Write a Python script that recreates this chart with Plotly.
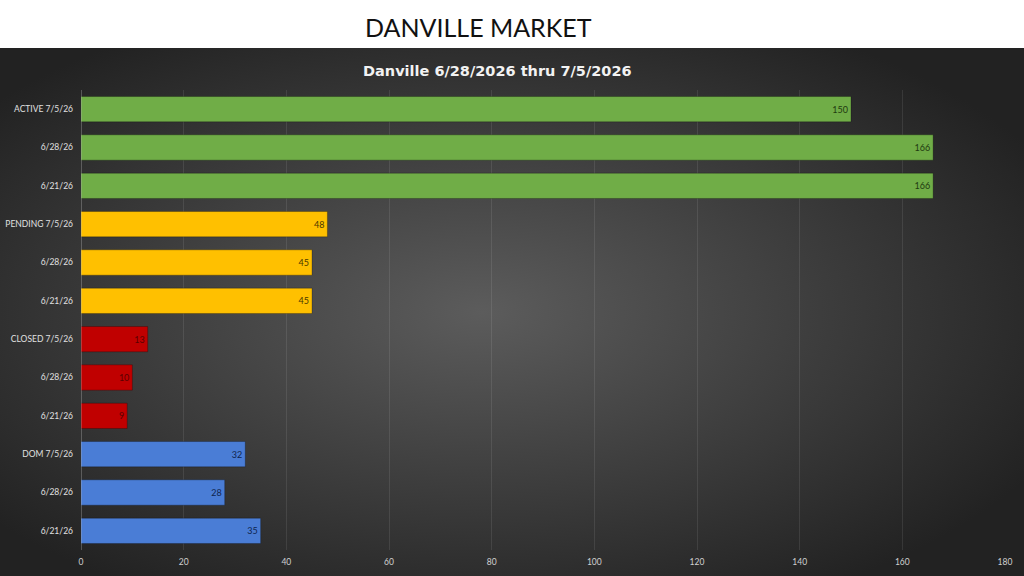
import urllib.parse
import plotly.graph_objects as go

# bar labels, top to bottom
labels = ["ACTIVE 7/5/26", "6/28/26", "6/21/26",
          "PENDING 7/5/26", "6/28/26", "6/21/26",
          "CLOSED 7/5/26", "6/28/26", "6/21/26",
          "DOM 7/5/26", "6/28/26", "6/21/26"]
values = [150, 166, 166, 48, 45, 45, 13, 10, 9, 32, 28, 35]
groups = ["active"] * 3 + ["pending"] * 3 + ["closed"] * 3 + ["dom"] * 3
x_ticks = [0, 20, 40, 60, 80, 100, 120, 140, 160, 180]

bar_colors = {"active": "#70AD47", "pending": "#FFC000",
              "closed": "#C00000", "dom": "#4A7DD6"}
text_colors = {"active": "#1F3A10", "pending": "#4A3800",
               "closed": "#5A0000", "dom": "#0F2550"}

positions = list(range(len(labels)))

# plot area in pixels
W, H = 1024, 576
L, R, T, B = 81, 19, 90, 26
PW, PH = W - L - R, H - T - B
BAND = 48  # white title band at the top


def px_x(col):
    return (col - L) / PW


def px_y(row):
    return (H - B - row) / PH


# dark radial backdrop, drawn as an inline svg
svg = ('<svg xmlns="http://www.w3.org/2000/svg" width="1024" height="528">'
       '<defs><radialGradient id="g" cx="47%" cy="50%" r="62%">'
       '<stop offset="0%" stop-color="#5c5c5c"/>'
       '<stop offset="100%" stop-color="#222222"/>'
       '</radialGradient></defs>'
       '<rect width="1024" height="528" fill="url(#g)"/></svg>')
bg_src = "data:image/svg+xml;utf8," + urllib.parse.quote(svg)

fig = go.Figure()
fig.add_trace(go.Bar(
    x=values,
    y=positions,
    orientation="h",
    marker=dict(color=[bar_colors[g] for g in groups],
                line=dict(color="rgba(0,0,0,0.25)", width=1)),
    text=values,
    textposition="inside",
    insidetextanchor="end",
    constraintext="none",
    textfont=dict(family="Lato", size=9,
                  color=[text_colors[g] for g in groups]),
    hoverinfo="x+y",
))

fig.update_layout(
    width=W, height=H,
    margin=dict(l=L, r=R, t=T, b=B),
    paper_bgcolor="#2a2a2a",
    plot_bgcolor="rgba(0,0,0,0)",
    bargap=0.34,
    showlegend=False,
    font=dict(family="Lato", color="#d9d9d9", size=9),
    images=[dict(source=bg_src, xref="paper", yref="paper",
                 x=px_x(0), y=px_y(BAND), sizex=W / PW, sizey=(H - BAND) / PH,
                 xanchor="left", yanchor="top",
                 sizing="stretch", layer="below")],
    shapes=[dict(type="rect", xref="paper", yref="paper",
                 x0=px_x(0), x1=px_x(W), y0=px_y(BAND), y1=px_y(0),
                 fillcolor="white", line=dict(width=0), layer="below")],
    annotations=[
        dict(text="DANVILLE MARKET", xref="paper", yref="paper",
             x=px_x(478), y=px_y(27),
             xanchor="center", yanchor="middle", showarrow=False,
             font=dict(family="Lato", size=25, color="#111111")),
        dict(text="<b>Danville 6/28/2026 thru 7/5/2026</b>", xref="paper", yref="paper",
             x=px_x(497), y=px_y(71),
             xanchor="center", yanchor="middle", showarrow=False,
             font=dict(family="DejaVu Sans", size=14.5, color="#f2f2f2")),
    ],
)

fig.update_xaxes(range=[0, 180], tickvals=x_ticks, showgrid=True,
                 gridcolor="rgba(255,255,255,0.09)", gridwidth=1,
                 zeroline=False, showline=False, ticks="", automargin=False,
                 ticklabelstandoff=5,
                 tickfont=dict(size=8.5, color="#d0d0d0"))
fig.update_yaxes(tickvals=positions, ticktext=labels, autorange="reversed",
                 showgrid=False, zeroline=False, showline=False, ticks="",
                 ticklabelstandoff=7, automargin=False,
                 tickfont=dict(size=8.5, color="#e0e0e0"))
# vertical axis line at zero
fig.add_vline(x=0, line=dict(color="rgba(255,255,255,0.45)", width=1))

fig.write_html("out.html", config={"displayModeBar": False},
               post_script="document.body.style.margin='0';")
